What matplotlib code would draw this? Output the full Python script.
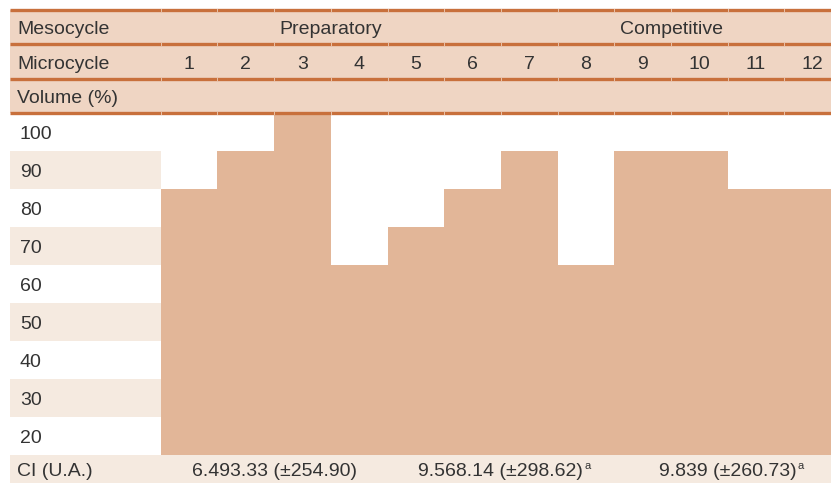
import matplotlib
matplotlib.use('Agg')
import matplotlib.pyplot as plt

# data
microcycles = [1, 2, 3, 4, 5, 6, 7, 8, 9, 10, 11, 12]
volume = [80, 90, 100, 60, 70, 80, 90, 60, 90, 90, 80, 80]
volume_ticks = [100, 90, 80, 70, 60, 50, 40, 30, 20]
mesocycles = ['Preparatory', 'Competitive']
meso_len = [6, 6]
ci_labels = ['6.493.33 (±254.90)', '9.568.14 (±298.62)', '9.839 (±260.73)']
ci_sup = ['', 'a', 'a']
ci_len = [4, 4, 4]

BAR = '#e2b698'
HEAD = '#efd5c3'
STRIPE = '#f5eae0'
RULE = '#c8703c'
TXT = '#333333'

plt.rcParams['font.family'] = ['Liberation Sans', 'DejaVu Sans']
FS = 14


def main():
	fig = plt.figure(figsize=(8.31, 4.84), dpi=100)
	ax = fig.add_axes([0, 0, 1, 1])
	ax.axis('off')

	# pixel geometry of the table -> data limits
	col_w = 56.7
	x0_px = 160.7
	unit_px = 3.8
	base = 10
	ax.set_xlim(0.5 - x0_px / col_w, 0.5 + (831 - x0_px) / col_w)
	ax.set_ylim(base - 29 / unit_px, 100 + 113 / unit_px)

	left = 0.5 - (x0_px - 10) / col_w
	right = 12.9
	lab_x = left + 7 / col_w
	dy = 7.2 / unit_px  # baseline offset from row centre

	def put(x, yc, s, ha='left'):
		return ax.text(x, yc - dy, s, fontsize=FS, color=TXT, ha=ha, va='baseline')

	# header rows (values above 100)
	rules = [100 + 103 / unit_px, 100 + 69 / unit_px, 100 + 34 / unit_px, 100]
	ax.fill_between([left, right], rules[-1], rules[0], color=HEAD, lw=0, zorder=0)
	for r in rules:
		ax.plot([left, right], [r, r], color=RULE, lw=2.4, solid_capstyle='butt', zorder=3)
	# small breaks in the rules at column boundaries
	for b in [0.5 + i for i in range(12)]:
		for r in rules:
			ax.plot([b, b], [r - 0.35, r + 0.35], color='#e9c2a8', lw=0.7, zorder=4)

	put(lab_x, (rules[0] + rules[1]) / 2, 'Mesocycle')
	put(lab_x, (rules[1] + rules[2]) / 2, 'Microcycle')
	put(lab_x, (rules[2] + rules[3]) / 2, 'Volume (%)')

	start = 0.5
	for name, n in zip(mesocycles, meso_len):
		put(start + n / 2, (rules[0] + rules[1]) / 2, name, ha='center')
		start += n
	for m in microcycles:
		put(m, (rules[1] + rules[2]) / 2, str(m), ha='center')

	# striped label column
	for i, v in enumerate(volume_ticks):
		if i % 2 == 1:
			ax.fill_between([left, 0.5], v - 10, v, color=STRIPE, lw=0, zorder=0)
		put(lab_x + 0.05, v - 5, str(v))

	# bars
	ax.bar(microcycles, [v - base for v in volume], bottom=base, width=1.0,
		   color=BAR, edgecolor='none', zorder=1)

	# CI row
	ci_bot = base - 28 / unit_px
	ax.fill_between([left, right], ci_bot, base, color=STRIPE, lw=0, zorder=0)
	put(lab_x, (ci_bot + base) / 2, 'CI (U.A.)')
	start = 0.5
	for lab, sup, n in zip(ci_labels, ci_sup, ci_len):
		t = put(start + n / 2, (ci_bot + base) / 2, lab, ha='center')
		if sup:
			ax.annotate(sup, xy=(1, 0.82), xycoords=t, xytext=(0.6, 0),
						textcoords='offset points', fontsize=8, color=TXT, va='center')
		start += n

	fig.savefig('out.png', dpi=100)


if __name__ == '__main__':
	main()
